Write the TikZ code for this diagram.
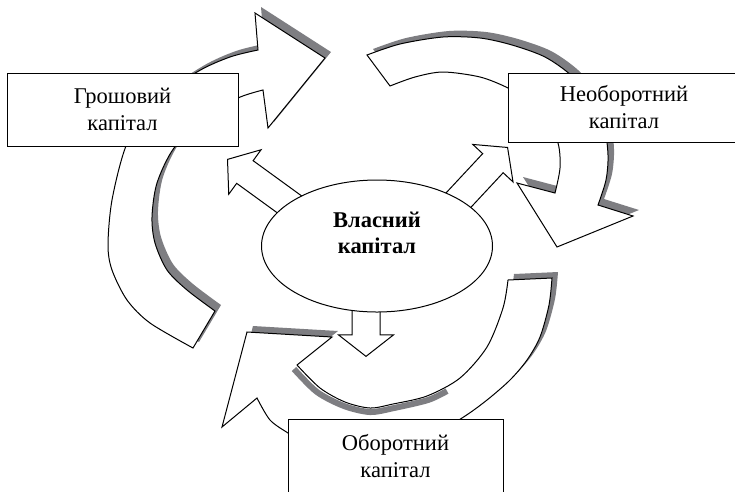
\documentclass[tikz,border=0pt]{standalone}
\usepackage{fontspec}
\setmainfont{Liberation Serif}
\usepackage{tikz}
\usetikzlibrary{positioning, shapes.geometric, shapes.arrows}
\definecolor{shadowgray}{RGB}{126,126,130}
\tikzset{
	every node/.append style={
		line width=1pt,
	},
	capbox/.append style={
		draw,
		fill=white,
		align=center,
		inner sep=0pt,
		font={\fontsize{22.5}{27}\selectfont},
	},
	owncircle/.append style={
		ellipse,
		draw,
		fill=white,
		inner sep=0pt,
		minimum width=231pt,
		minimum height=132pt,
	},
	ownlbl/.append style={
		align=center,
		font={\bfseries\fontsize{22.5}{26}\selectfont},
	},
	blockarrow/.append style={
		single arrow,
		draw,
		fill=white,
		inner xsep=0pt,
		inner ysep=13.5pt,
		minimum width=54pt,
		single arrow head extend=13.5pt,
		single arrow tip angle=104,
		anchor=tip,
	},
	arcshape/.append style={
		draw,
		fill=white,
		line width=1pt,
	},
	arcshadow/.append style={
		fill=shadowgray,
		draw=none,
		transform canvas={shift={(6pt,6pt)}},
	},
	shadowed/.append style={
		arcshape,
		preaction={arcshadow},
	},
}

\begin{document}
\begin{tikzpicture}[x=1pt, y=-1pt]
		\useasboundingbox (0,0) rectangle (735,491);
		
		% money capital -> fixed capital
		\path[shadowed] (215,311) -- (193,348)
			-- plot[smooth] coordinates {(193,348) (150,323) (127,300) (112,270) (108,245) (112,200) (126,146) (150,105) (197,72) (230,57) (258,50)}
			-- (255,13) -- (325,58) -- (268,128) -- (263,90)
			-- plot[smooth] coordinates {(263,90) (238,98) (205,118) (174,148) (157,183) (152,217) (155,243) (167,270) (187,290) (215,311)}
			-- cycle;
		
		% fixed capital -> current capital
		\path[shadowed] (390,86) -- (367,55)
			-- plot[smooth] coordinates {(367,55) (400,44) (443,37) (480,38) (512,45) (545,57) (572,76) (592,100) (604,125) (608,155) (606,180) (598,205)}
			-- (633,216) -- (557,247) -- (517,183) -- (555,193)
			-- plot[smooth] coordinates {(555,193) (560,168) (558,143) (545,117) (530,102) (508,88) (480,77) (443,72) (415,77) (390,86)}
			-- cycle;
		
		% current capital -> money capital
		\path[save path=\returnarc] (508,280) -- (552,278)
			-- plot[smooth] coordinates {(552,278) (549,305) (540,337) (527,360) (510,380) (487,400) (462,418) (420,442) (375,452) (330,447) (300,440) (288,433) (270,420) (257,398)}
			-- (222,427) -- (247,332) -- (332,337) -- (297,365)
			-- plot[smooth] coordinates {(297,365) (320,388) (345,402) (370,408) (393,404) (427,396) (460,378) (487,347) (503,308) (508,280)}
			-- cycle;
		\begin{scope}
			\clip (180,300) -- (350,316) -- (339,332) -- (297,365)
				-- plot[smooth] coordinates {(297,365) (320,388) (345,402) (370,408) (393,404) (427,396) (460,378) (487,347) (503,308) (508,280)}
				-- (512,240) -- (735,240) -- (735,491) -- (180,491) -- cycle;
			\fill[arcshadow, use path=\returnarc];
		\end{scope}
		\path[arcshape, use path=\returnarc];
		\draw[shadowgray, line width=6pt] plot[smooth] coordinates {(294,369) (317,392) (344,406) (370,412) (394,408) (428,400) (447,391)};
		
		\node(tocash)[blockarrow, rotate=144, minimum height=90pt] at (227,159) {};
		\node(tofixed)[blockarrow, rotate=47, minimum height=90pt] at (508,147) {};
		\node(tocurrent)[blockarrow, rotate=-90, minimum height=70pt] at (366,357) {};
		
		\node(own)[owncircle] at (377,246) {};
		\node(ownname)[ownlbl] at (377,233) {Власний\\капітал};
		
		\node(cash)[capbox, minimum width=231pt, minimum height=73pt] at (122.5,109.5) {Грошовий\\капітал};
		\node(fixed)[capbox, minimum width=232pt, minimum height=69pt] at (624,107.5) {Необоротний\\капітал};
		\node(current)[capbox, minimum width=215pt, minimum height=74pt] at (395.5,456) {Оборотний\\капітал};
\end{tikzpicture}
\end{document}
